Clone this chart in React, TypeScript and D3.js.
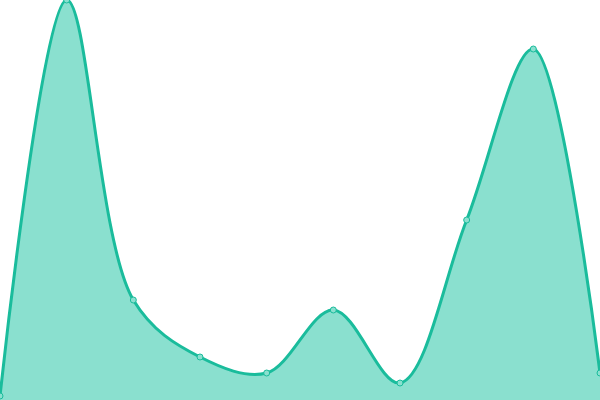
import React, {useEffect, useRef} from 'react';
import * as d3 from 'd3';

const labels = ['a', 'b', 'c', 'd', 'e', 'f', 'g', 'h', 'i', 'j'];
const values = [4, 400, 100, 43, 27, 90, 17, 180, 351, 27];

const width = 600;
const height = 400;

const App = () => {
    const ref = useRef(null);

    useEffect(() => {
        document.body.style.margin = '0';
        const svg = d3.select(ref.current);
        svg.selectAll('*').remove();

        const x = d3.scalePoint().domain(labels).range([0, width]);
        const y = d3.scaleLinear().domain([0, 400]).range([height, 0]);

        const data = labels.map((l, i) => ({l, v: values[i]}));

        const area = d3.area()
            .x(d => x(d.l))
            .y0(height)
            .y1(d => y(d.v))
            .curve(d3.curveCatmullRom);

        const line = d3.line()
            .x(d => x(d.l))
            .y(d => y(d.v))
            .curve(d3.curveCatmullRom);

        svg.append('path')
            .datum(data)
            .attr('d', area)
            .attr('fill', '#8ae0cf');

        svg.append('path')
            .datum(data)
            .attr('d', line)
            .attr('fill', 'none')
            .attr('stroke', '#1abc9c')
            .attr('stroke-width', 3);

        svg.append('g')
            .selectAll('circle')
            .data(data)
            .join('circle')
            .attr('cx', d => x(d.l))
            .attr('cy', d => y(d.v))
            .attr('r', 3)
            .attr('fill', '#8ae0cf')
            .attr('stroke', '#1abc9c')
            .attr('stroke-width', 1);
    }, []);

    return <svg ref={ref} width={width} height={height} style={{display: 'block'}}/>;
};

export default App;
